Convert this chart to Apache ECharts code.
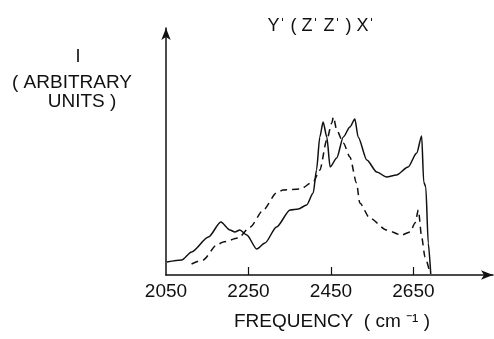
<!DOCTYPE html>
<html>
<head>
<meta charset="utf-8">
<script src="https://cdn.jsdelivr.net/npm/echarts@6/dist/echarts.min.js"></script>
<style>
  html, body { margin: 0; padding: 0; background: #fff; }
  #chart { width: 494px; height: 339px; }
</style>
</head>
<body>
<div id="chart"></div>
<script>
// frequency (cm-1) and intensity (arbitrary units)
const solidFreq = [2052, 2088, 2112, 2153, 2183, 2205, 2217, 2229, 2246, 2270, 2290, 2318, 2351, 2371, 2391, 2407, 2415, 2423, 2431, 2440, 2448, 2464, 2480, 2496, 2508, 2516, 2537, 2561, 2585, 2609, 2637, 2658, 2670, 2675, 2680, 2686, 2692]
const solidInt  = [13, 15, 23, 38, 53, 45, 43, 45, 40, 26, 32, 48, 65, 66, 70, 82, 105, 138, 153, 138, 108, 117, 138, 148, 156, 138, 115, 103, 98, 100, 108, 122, 139, 93, 88, 32, 1]

const dashFreq = [2112, 2140, 2173, 2189, 2225, 2254, 2286, 2318, 2334, 2375, 2407, 2423, 2440, 2452, 2456, 2464, 2480, 2496, 2512, 2520, 2544, 2585, 2621, 2642, 2654, 2662, 2670, 2678, 2690]
const dashInt  = [11, 15, 30, 33, 37, 48, 65, 82, 85, 86, 93, 105, 135, 152, 158, 145, 132, 118, 92, 72, 57, 45, 40, 43, 52, 65, 38, 18, 2]

const tickValues = [2250, 2450, 2650]
const labelValues = [2050, 2250, 2450, 2650]

const zip = (xs, ys) => xs.map((x, i) => [x, ys[i]])

const chart = echarts.init(document.getElementById('chart'))
const font = 'Liberation Sans, Arial, sans-serif'
const txt = (x, y, text, size) => ({
  type: 'text', x, y,
  style: { text, fill: '#111', font: size + 'px ' + font, align: 'center', verticalAlign: 'middle' }
})

chart.setOption({
  animation: false,
  grid: { left: 166, right: 1, top: 28, bottom: 64 },
  xAxis: {
    type: 'value',
    min: 2050,
    max: 2843,
    axisLine: { lineStyle: { color: '#111', width: 1.5 }, symbol: ['none', 'arrow'], symbolSize: [7, 12] },
    axisTick: { show: true, inside: true, length: 8, customValues: tickValues, lineStyle: { color: '#111', width: 1.2 } },
    axisLabel: { customValues: labelValues, formatter: v => String(v), color: '#111', fontSize: 19, fontFamily: font, margin: 7 },
    splitLine: { show: false }
  },
  yAxis: {
    type: 'value',
    min: 0,
    max: 247,
    axisLine: { show: true, lineStyle: { color: '#111', width: 1.5 }, symbol: ['none', 'arrow'], symbolSize: [7, 12] },
    axisTick: { show: false },
    axisLabel: { show: false },
    splitLine: { show: false }
  },
  graphic: [
    txt(332, 322, 'FREQUENCY  ( cm ⁻¹ )', 19),
    txt(321, 26, 'Yˈ ( Zˈ Zˈ ) Xˈ', 18),
    txt(78, 57, 'I', 18),
    txt(72, 83, '( ARBITRARY', 19),
    txt(82, 102, 'UNITS )', 19)
  ],
  series: [
    {
      type: 'line',
      data: zip(solidFreq, solidInt),
      showSymbol: false,
      smooth: 0.25,
      smoothMonotone: 'x',
      lineStyle: { color: '#111', width: 1.5 }
    },
    {
      type: 'line',
      data: zip(dashFreq, dashInt),
      showSymbol: false,
      smooth: 0.25,
      smoothMonotone: 'x',
      lineStyle: { color: '#111', width: 1.5, type: [7, 5] }
    }
  ]
})
</script>
</body>
</html>
